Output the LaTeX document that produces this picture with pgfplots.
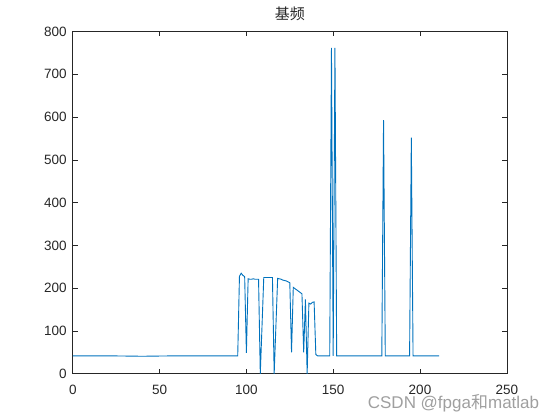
\documentclass[border=0pt]{standalone}
\usepackage{pgfplots}
\pgfplotsset{compat=1.18}
\usepackage{fontspec}
\setmainfont{Liberation Sans}
\newfontfamily\cjk{Noto Sans CJK SC}
\definecolor{mblue}{RGB}{0,114,189}
\definecolor{axgray}{RGB}{38,38,38}
\begin{document}
\begin{tikzpicture}[x=1pt,y=1pt]
\path[use as bounding box] (-72.8,-46.2) rectangle (487.2,373.8);
\begin{axis}[at={(0,0)}, anchor=south west, scale only axis,
  width=434pt, height=342.3pt,
  xmin=0, xmax=250, ymin=0, ymax=800,
  xtick={0,50,...,250}, ytick={0,100,...,800},
  tick align=inside, major tick length=5pt,
  axis line style={axgray, line width=0.6pt},
  tick style={axgray, line width=0.6pt},
  /pgf/number format/assume math mode=true,
  ticklabel style={font=\fontsize{13.5}{14}\selectfont, text=axgray},
  xticklabel style={anchor=north, inner sep=0pt, yshift=-11pt},
  yticklabel style={anchor=east, inner sep=0pt, xshift=-6pt},
  title={\cjk 基频},
  title style={at={(0.5,1)}, anchor=south, inner sep=0pt, yshift=4.5pt,
    font=\fontsize{15}{16}\selectfont, text=axgray},
]
\addplot[mblue, line width=0.9pt] table {
x y
0 42
20 42
40 41
60 42
80 42
95 42
96 228
97 235
98 230
99 227
100 49
101 222
102 221
103 221
104 222
105 221
106 221
107 221
108 0
109 112
110 225
111 225
112 225
113 225
114 225
115 225
116 0
117 112
118 223
119 222
120 221
121 219
122 218
123 217
124 215
125 213
126 50
127 202
128 199
129 196
130 193
131 190
132 187
133 50
134 174
135 0
136 165
137 163
138 167
139 168
140 45
141 42
148 42
149 762
150 42
151 762
152 42
178 42
179 593
180 42
194 42
195 552
196 42
211 42
};
\end{axis}
\node[text=gray!75, font=\fontsize{17}{18}\selectfont] at (380.7,-29.2) {CSDN @fpga{\cjk 和}matlab};
\end{tikzpicture}
\end{document}
